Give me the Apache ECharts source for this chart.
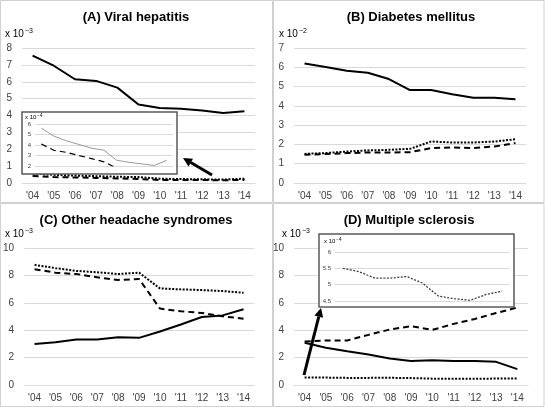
<!DOCTYPE html>
<html><head><meta charset="utf-8">
<script src="https://cdn.jsdelivr.net/npm/echarts@6/dist/echarts.min.js"></script>
<style>html,body{margin:0;padding:0;background:#fff}#c{width:545px;height:407px}</style>
</head><body><div id="c"></div>
<script>
const years = ["'04","'05","'06","'07","'08","'09","'10","'11","'12","'13","'14"];
// (A) Viral hepatitis, x10^-3 ; inset x10^-4
const aSolid = [7.55,6.95,6.15,6.05,5.65,4.65,4.45,4.4,4.3,4.15,4.25];
const aInsetUpper = [5.6,4.85,4.4,4.05,3.7,3.5,2.55,2.35,2.2,2.05,2.55];
const aInsetDashed = [4.1,3.5,3.3,3.0,2.7,2.4,1.8,1.8,1.75,1.6,1.85];
// (B) Diabetes mellitus, x10^-2
const bSolid = [6.2,6.02,5.82,5.72,5.39,4.82,4.82,4.6,4.42,4.42,4.34];
const bDashed = [1.46,1.5,1.55,1.58,1.58,1.6,1.81,1.84,1.81,1.89,2.07];
const bDotted = [1.51,1.55,1.63,1.69,1.72,1.77,2.15,2.1,2.1,2.15,2.27];
// (C) Other headache syndromes, x10^-3
const cSolid = [3.0,3.12,3.32,3.32,3.49,3.44,3.9,4.42,4.96,5.08,5.53];
const cDashed = [8.45,8.2,8.1,7.86,7.67,7.74,5.58,5.38,5.26,5.01,4.84];
const cDotted = [8.77,8.53,8.33,8.23,8.1,8.2,7.05,6.98,6.93,6.86,6.73];
// (D) Multiple sclerosis, x10^-3 ; inset x10^-4
const dSolid = [3.08,2.72,2.46,2.22,1.93,1.76,1.81,1.76,1.76,1.69,1.16];
const dDashed = [3.18,3.25,3.25,3.66,4.05,4.29,4.02,4.46,4.82,5.25,5.66];
const dInsetDotted = [5.5,5.4,5.2,5.2,5.25,5.05,4.65,4.57,4.52,4.7,4.8];

const toE3 = a => a.map(v => v / 10);

const LBL = '#404040', GRID = '#d9d9d9', FONT = 'Liberation Sans, Arial, sans-serif';

const grids = [
  {left:22, top:48, width:233, height:135},   // A
  {left:294, top:48, width:232, height:135},  // B
  {left:20, top:248, width:234, height:137},  // C
  {left:294, top:248, width:234, height:137}, // D
  {left:35, top:124, width:138, height:42, z:11},  // A inset
  {left:335, top:252, width:175, height:49, z:11}  // D inset
];

function xAx(i, inset){
  return {type:'category', gridIndex:i, data:years, boundaryGap:true, z: inset?11:0,
    axisLine:{show:!inset, lineStyle:{color:GRID}}, axisTick:{show:false},
    axisLabel:{show:!inset, color:LBL, fontSize:10, fontFamily:FONT, margin:8}};
}
function yAx(i, min, max, interval, inset){
  return {type:'value', gridIndex:i, min, max, interval, z: inset?11:0,
    axisLine:{show:false}, axisTick:{show:false},
    splitLine:{lineStyle:{color:GRID, width:1}},
    axisLabel:{color:LBL, fontSize: inset?6:10, fontFamily:FONT, margin: inset?4:10}};
}
const xAxis = [xAx(0),xAx(1),xAx(2),xAx(3),xAx(4,true),xAx(5,true)];
const yAxis = [yAx(0,0,8,1), yAx(1,0,7,1), yAx(2,0,10,2), yAx(3,0,10,2), yAx(4,2,6,1,true), yAx(5,4.5,6,0.5,true)];

function line(g, data, kind, opts){
  opts = opts || {};
  const ls = {color: opts.color || '#000', width: opts.width || 2};
  if (kind === 'dashed') ls.type = [6,4];
  if (kind === 'dotted') ls.type = [2,1.5];
  return {type:'line', xAxisIndex:g, yAxisIndex:g, data, symbol:'none', smooth:false,
    lineStyle:ls, z: opts.z || 2, silent:true, animation:false};
}
const series = [
  line(0, aSolid, 'solid'), line(0, toE3(aInsetDashed), 'dashed'), line(0, toE3(aInsetUpper), 'dotted'),
  line(1, bSolid, 'solid'), line(1, bDashed, 'dashed'), line(1, bDotted, 'dotted'),
  line(2, cSolid, 'solid'), line(2, cDashed, 'dashed'), line(2, cDotted, 'dotted'),
  line(3, dSolid, 'solid'), line(3, dDashed, 'dashed'), line(3, toE3(dInsetDotted), 'dotted'),
  line(4, aInsetUpper, 'solid', {color:'#999', width:1, z:12}),
  line(4, aInsetDashed, 'dashed', {width:1.2, z:12}),
  line(5, dInsetDotted, 'dotted', {color:'#404040', width:1.3, z:12})
];

function title(t, x, y){
  return {type:'text', x, y, z:30, style:{text:t, font:'bold 13px '+FONT, fill:'#000', textAlign:'center', textVerticalAlign:'middle'}};
}
function expo(e, x, y, small){
  const fs = small?6:10;
  return {type:'text', x, y, z:30, style:{text:'{a|x 10}{b|'+e+'}', textVerticalAlign:'middle',
    rich:{a:{fontSize:fs, fontFamily:FONT, fill:'#000'}, b:{fontSize:small?4.5:7, fontFamily:FONT, fill:'#000', verticalAlign:'top', padding:[0,0,small?3:5,1]}}}};
}
function box(x,y,w,h,stroke,fill,z,lw){
  return {type:'rect', shape:{x,y,width:w,height:h}, z, style:{fill:fill||'none', stroke, lineWidth:lw||1}, silent:true};
}
function arrow(x1,y1,x2,y2){
  const ang = Math.atan2(y2-y1, x2-x1), L=9, W=4.5;
  const bx = x2 - L*Math.cos(ang), by = y2 - L*Math.sin(ang);
  const px = -Math.sin(ang), py = Math.cos(ang);
  return [
    {type:'line', z:40, shape:{x1,y1,x2:bx,y2:by}, style:{stroke:'#000', lineWidth:3}, silent:true},
    {type:'polygon', z:40, shape:{points:[[x2,y2],[bx+px*W,by+py*W],[bx-px*W,by-py*W]]}, style:{fill:'#000'}, silent:true}
  ];
}
const graphic = [
  box(0.5,0.5,272,202,'#d0d0d0',null,0),
  box(273.5,0.5,270.5,202,'#d0d0d0',null,0),
  box(0.5,203.5,272,203,'#d0d0d0',null,0),
  box(273.5,203.5,270.5,203,'#d0d0d0',null,0),
  title('(A) Viral hepatitis', 136, 17),
  title('(B) Diabetes mellitus', 411, 17),
  title('(C) Other headache syndromes', 136, 220),
  title('(D) Multiple sclerosis', 409, 220),
  expo('−3', 5, 34), expo('−2', 279, 34), expo('−3', 5, 234), expo('−3', 282, 234),
  box(22,112,155,62,'#595959','#fff',10,1.5),
  box(319,234,195,73,'#595959','#fff',10,1.5),
  expo('−4', 25, 117, true), expo('−4', 324, 241, true),
  ...arrow(212,175,183,158),
  ...arrow(304,375,321,308)
];

const chart = echarts.init(document.getElementById('c'), null, {renderer:'canvas'});
chart.setOption({animation:false, backgroundColor:'#fff', grid:grids, xAxis, yAxis, series, graphic});
</script></body></html>
